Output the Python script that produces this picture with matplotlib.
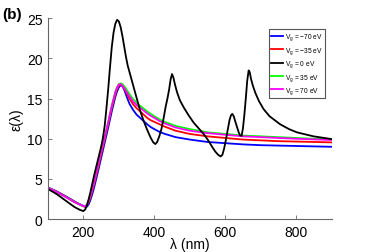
import matplotlib
matplotlib.use("Agg")
import matplotlib.pyplot as plt

plt.rcParams['font.family'] = ['Liberation Sans', 'DejaVu Sans']
plt.rcParams['mathtext.default'] = 'regular'

# Black: Vg = 0 eV
x_black = [100, 125, 150, 175, 190, 200, 205, 210, 215, 220, 225, 230, 240, 250, 255, 260, 265, 270,
           275, 280, 285, 290, 295, 300, 305, 310, 315, 320, 325, 330, 340, 350, 360, 370, 380, 390,
           397, 403, 408, 414, 420, 426, 432, 437, 442, 446, 450, 454, 458, 464, 472, 483, 497, 511,
           525, 539, 552, 563, 572, 580, 587, 592, 597, 602, 607, 612, 616, 620, 624, 628, 633, 638,
           642, 646, 650, 654, 658, 662, 666, 669, 673, 678, 685, 695, 708, 725, 755, 780, 802, 849, 900]
y_black = [3.75, 3.1, 2.3, 1.5, 1.15, 1.0, 1.2, 1.7, 2.5, 3.4, 4.4, 5.4, 7.2, 9.0, 10.1, 11.6, 13.8, 16.2,
           18.9, 21.4, 23.2, 24.3, 24.8, 24.6, 23.9, 22.8, 21.5, 20.2, 19.1, 18.3, 16.7, 15.1, 13.5, 12.2, 11.1, 10.1,
           9.55, 9.34, 9.6, 10.3, 11.2, 12.5, 14.0, 15.0, 16.2, 17.4, 18.05, 17.6, 16.8, 15.8, 14.8, 13.9, 12.9, 12.0,
           11.3, 10.6, 9.8, 9.0, 8.4, 8.0, 7.8, 8.0, 8.8, 9.9, 11.1, 12.3, 12.9, 13.1, 12.8, 12.2, 11.5, 10.8,
           10.4, 10.35, 11.3, 13.0, 15.0, 17.2, 18.5, 18.3, 17.4, 16.6, 15.7, 14.7, 13.7, 12.8, 11.8, 11.2, 10.8, 10.3, 9.96]

# Coloured curves share one wavelength grid
x_col = [100, 125, 150, 175, 190, 200, 205, 210, 215, 220, 225, 230, 240, 250, 260, 270, 280, 290, 295,
         300, 305, 310, 315, 320, 325, 330, 340, 350, 360, 370, 380, 390, 400, 415, 430, 460, 500, 550,
         600, 650, 700, 750, 800, 850, 900]
y_m70 = [3.95, 3.45, 2.85, 2.2, 1.85, 1.65, 1.55, 1.55, 1.85, 2.4, 3.1, 3.9, 5.7, 7.6, 9.5, 11.4, 13.4, 15.2, 15.9,
         16.4, 16.65, 16.55, 16.1, 15.5, 14.9, 14.35, 13.6, 13.0, 12.6, 12.2, 11.8, 11.45, 11.2, 10.85, 10.6, 10.2, 9.9, 9.6,
         9.45, 9.3, 9.2, 9.15, 9.1, 9.05, 9.0]
y_m35 = [3.9, 3.4, 2.8, 2.15, 1.8, 1.6, 1.55, 1.7, 2.1, 2.7, 3.5, 4.3, 6.1, 8.0, 9.9, 11.8, 13.8, 15.5, 16.2,
         16.6, 16.75, 16.6, 16.25, 15.85, 15.4, 15.0, 14.3, 13.8, 13.4, 13.0, 12.6, 12.3, 12.1, 11.8, 11.5, 11.0, 10.6, 10.3,
         10.1, 9.9, 9.8, 9.7, 9.65, 9.6, 9.55]
y_p35 = [3.9, 3.35, 2.75, 2.1, 1.8, 1.6, 1.6, 1.8, 2.3, 3.0, 3.8, 4.6, 6.5, 8.4, 10.2, 12.1, 14.1, 15.8, 16.4,
         16.8, 16.9, 16.8, 16.55, 16.25, 15.9, 15.55, 14.95, 14.5, 14.1, 13.75, 13.4, 13.1, 12.8, 12.4, 12.1, 11.6, 11.2, 10.8,
         10.6, 10.4, 10.3, 10.2, 10.1, 10.0, 9.96]
y_p70 = [3.9, 3.35, 2.75, 2.1, 1.8, 1.6, 1.6, 1.8, 2.3, 3.0, 3.8, 4.6, 6.5, 8.4, 10.2, 12.1, 14.1, 15.8, 16.4,
         16.75, 16.8, 16.6, 16.3, 15.95, 15.6, 15.25, 14.65, 14.2, 13.85, 13.5, 13.15, 12.85, 12.6, 12.2, 11.9, 11.4, 11.0, 10.7,
         10.5, 10.3, 10.2, 10.1, 10.0, 9.92, 9.85]

labels = ['V$_g$ = −70 eV', 'V$_g$ = −35 eV', 'V$_g$ = 0 eV', 'V$_g$ = 35 eV', 'V$_g$ = 70 eV']
x_ticks = [200, 400, 600, 800]
y_ticks = [0, 5, 10, 15, 20, 25]

fig = plt.figure(figsize=(3.66, 2.53), dpi=100)
ax = fig.add_axes([0.131, 0.130, 0.775, 0.794])

lw = 1.3
h1, = ax.plot(x_col, y_m70, color='#0000ff', lw=lw)
h2, = ax.plot(x_col, y_m35, color='#ff0000', lw=lw)
h4, = ax.plot(x_col, y_p35, color='#00ff00', lw=lw)
h5, = ax.plot(x_col, y_p70, color='#ff00ff', lw=lw)
h3, = ax.plot(x_black, y_black, color='black', lw=lw)

ax.set_xlim(100, 900)
ax.set_ylim(0, 25)
ax.set_xticks(x_ticks)
ax.set_yticks(y_ticks)
for s in ['top', 'right']:
    ax.spines[s].set_visible(False)
for s in ['left', 'bottom']:
    ax.spines[s].set_color('#666666')
    ax.spines[s].set_linewidth(0.8)
ax.tick_params(direction='in', length=3, width=0.6, color='#666666', labelsize=10, pad=4)

ax.set_xlabel('λ (nm)', fontsize=10, labelpad=-1)
ax.set_ylabel('ε(λ)', fontsize=10, labelpad=2)

leg = ax.legend([h1, h2, h3, h4, h5], labels, loc='upper left',
                bbox_to_anchor=(269 / 366, 1 - 30 / 253), bbox_transform=fig.transFigure,
                fontsize=4.8, handlelength=1.8, handletextpad=0.2, labelspacing=0.4,
                borderpad=0.35, borderaxespad=0, fancybox=False, framealpha=1)
leg.get_frame().set_edgecolor('#555555')
leg.get_frame().set_linewidth(0.8)

fig.text(0.005, 0.94, '(b)', fontsize=11, fontweight='bold', va='center')

fig.savefig('out.png', dpi=100)
